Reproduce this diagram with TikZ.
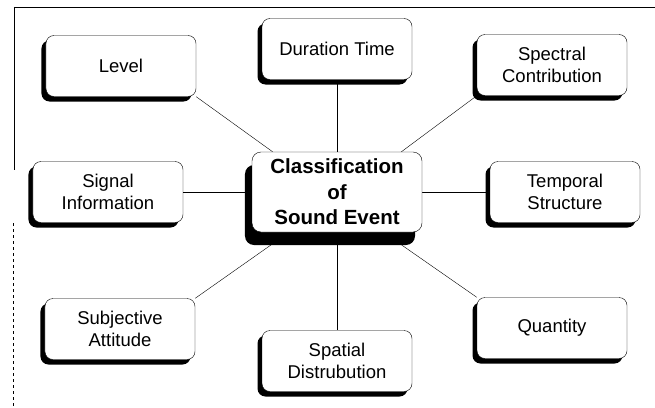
\documentclass[tikz,border=0pt]{standalone}
\usepackage{fontspec}
\setmainfont{Liberation Sans}
\usetikzlibrary{positioning, shadows, backgrounds}

\tikzset{
  topic/.style={draw, thin, rounded corners=8pt, fill=white, align=center,
    minimum width=150pt, minimum height=61pt, inner sep=2pt,
    font=\fontsize{18.5}{22}\selectfont,
    drop shadow={shadow xshift=-4.5pt, shadow yshift=-5pt, fill=black, opacity=1}},
  hub/.style={draw, thin, rounded corners=9pt, fill=white, align=center,
    minimum width=170pt, minimum height=80pt, inner sep=2pt,
    font=\bfseries\fontsize{20.5}{25.5}\selectfont,
    drop shadow={shadow xshift=-7pt, shadow yshift=-13pt, fill=black, opacity=1}},
}

\begin{document}
\begin{tikzpicture}[node distance=140pt, on grid]
\useasboundingbox (-337pt,-215pt) rectangle (318pt,192pt);

\node[hub] (cls) at (0,0) {Classification\\of\\Sound Event};

\node[topic, above left = 126pt and 216pt of cls] (lvl) {Level};
\node[topic, above = 143pt of cls] (dur) {Duration Time};
\node[topic, above right = 127pt and 215pt of cls] (spc) {Spectral\\Contribution};
\node[topic, left = 229pt of cls] (sig) {Signal\\Information};
\node[topic, right = 228pt of cls] (tmp) {Temporal\\Structure};
\node[topic, below left = 137pt and 217pt of cls] (subj) {Subjective\\Attitude};
\node[topic, below = 169pt of cls] (spt) {Spatial\\Distrubution};
\node[topic, below right = 136pt and 215pt of cls] (qty) {Quantity};

% frame of the page
\draw (-323pt,185pt) -- (318pt,185pt);
\draw (-323pt,185pt) -- (-323pt,22pt);
\draw[dashed] (-324pt,-31pt) -- (-324pt,-215pt);

\begin{scope}[on background layer]
\fill[white] (-337pt,-215pt) rectangle (318pt,192pt);
\path[thin] (lvl.south east) edge (cls.148)
	(dur) edge (cls)
	(spc.south west) edge (cls.32)
	(sig) edge (cls)
	(cls) edge (tmp)
	(subj.north east) edge (cls.-140)
	(cls) edge (spt)
	(cls.-41) edge (qty.north west);
\end{scope}
\end{tikzpicture}
\end{document}
